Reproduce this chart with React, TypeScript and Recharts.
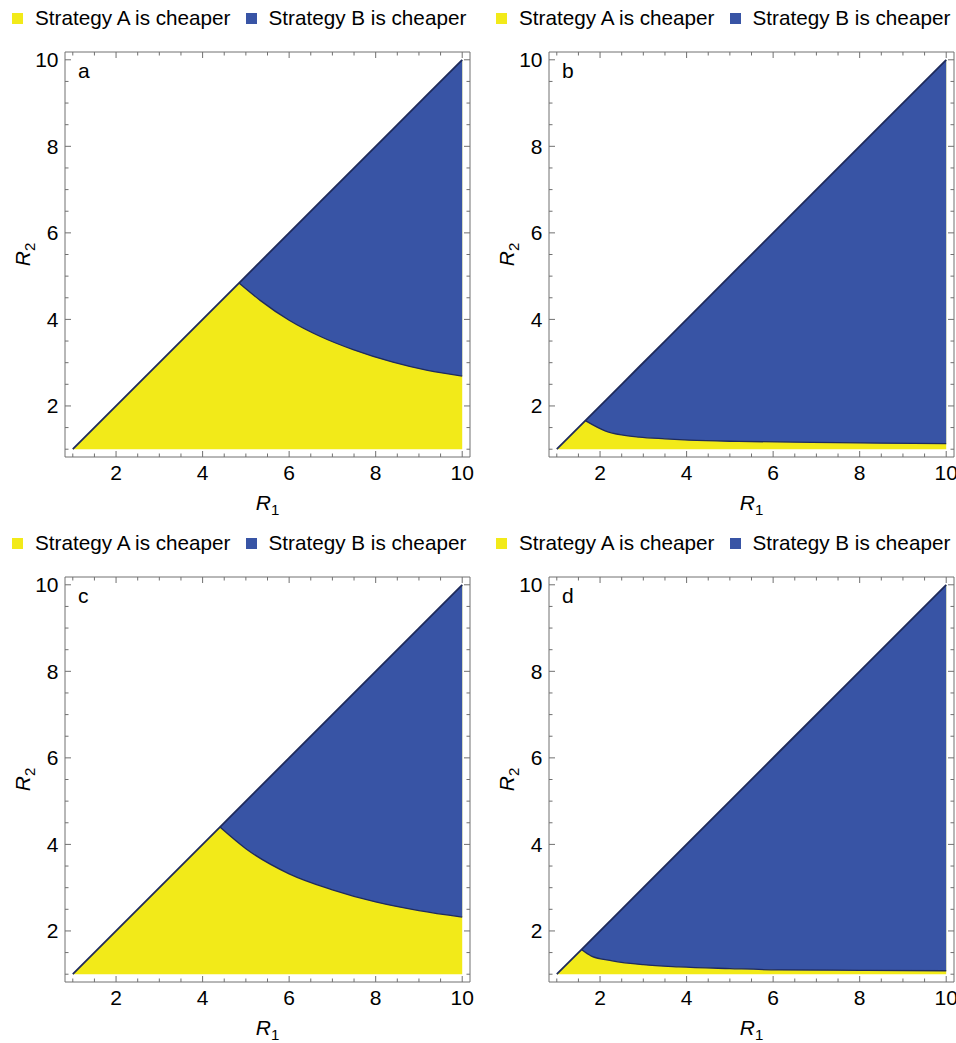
import React from 'react';
import { ComposedChart, Area, Line, XAxis, YAxis, ReferenceArea, Label } from 'recharts';

// boundary curves (R1, R2), first point is where the curve meets the diagonal
const R1_A = [4.84, 5.33, 6.0, 6.71, 7.48, 8.4, 9.2, 10];
const R2_A = [4.84, 4.44, 3.98, 3.61, 3.3, 3.01, 2.82, 2.69];

const R1_B = [1.66, 2.13, 2.5, 2.9, 3.5, 4.06, 5.2, 6.9, 8.5, 10];
const R2_B = [1.66, 1.42, 1.33, 1.28, 1.24, 1.21, 1.18, 1.16, 1.14, 1.13];

const R1_C = [4.4, 5.0, 6.0, 7.0, 8.0, 9.0, 10];
const R2_C = [4.4, 3.9, 3.32, 2.95, 2.67, 2.47, 2.32];

const R1_D = [1.57, 1.8, 2.28, 3.0, 3.82, 5.0, 6.13, 8.0, 10];
const R2_D = [1.57, 1.42, 1.31, 1.22, 1.17, 1.13, 1.1, 1.09, 1.08];

const TICKS = [1, 1.5, 2, 2.5, 3, 3.5, 4, 4.5, 5, 5.5, 6, 6.5, 7, 7.5, 8, 8.5, 9, 9.5, 10];
const LABELED = [2, 4, 6, 8, 10];
const DOMAIN: [number, number] = [0.82, 10.18];

const LEGEND = ['Strategy A is cheaper', 'Strategy B is cheaper'];

const YELLOW = '#f2ea19';
const BLUE = '#3854a5';
const NAVY = '#1f2b5c';
const FRAME = '#707070';
const FONT = '"Liberation Sans", Arial, sans-serif';

const PLOT = 405;

const buildRows = (r1s: number[], r2s: number[]) => [
  { r1: 1, diag: 1, yellow: [1, 1] },
  ...r1s.map((x, i) => ({
    r1: x,
    diag: x,
    yellow: [1, x],
    blue: [r2s[i], x],
    curve: r2s[i],
  })),
];

const BottomTick = (props: any) => {
  const { x, y, payload } = props;
  const v = payload.value;
  const major = LABELED.includes(v);
  const len = major ? 6 : 3.5;
  return (
    <g>
      <line x1={x} y1={y} x2={x} y2={y - len} stroke={FRAME} />
      <line x1={x} y1={y - PLOT} x2={x} y2={y - PLOT + len} stroke={FRAME} />
      {major && (
        <text x={x} y={y + 23} textAnchor="middle" fontSize={21} fontFamily={FONT} fill="#000">
          {v}
        </text>
      )}
    </g>
  );
};

const LeftTick = (props: any) => {
  const { x, y, payload } = props;
  const v = payload.value;
  const major = LABELED.includes(v);
  const len = major ? 6 : 3.5;
  return (
    <g>
      <line x1={x} y1={y} x2={x + len} y2={y} stroke={FRAME} />
      <line x1={x + PLOT} y1={y} x2={x + PLOT - len} y2={y} stroke={FRAME} />
      {major && (
        <text x={x - 6.5} y={y + 7.5} textAnchor="end" fontSize={21} fontFamily={FONT} fill="#000">
          {v}
        </text>
      )}
    </g>
  );
};

const XLabel = (props: any) => {
  const { x, y, width } = props.viewBox;
  return (
    <text x={x + width / 2} y={y + 53} textAnchor="middle" fontSize={21} fontFamily={FONT} fill="#000">
      <tspan fontStyle="italic">R</tspan>
      <tspan dy={5} fontSize={15}>1</tspan>
    </text>
  );
};

const YLabel = (props: any) => {
  const { x, y, height } = props.viewBox;
  const cx = x + 14.5;
  const cy = y + height / 2;
  return (
    <text
      x={cx}
      y={cy}
      transform={`rotate(-90, ${cx}, ${cy})`}
      textAnchor="middle"
      fontSize={21}
      fontFamily={FONT}
      fill="#000"
    >
      <tspan fontStyle="italic">R</tspan>
      <tspan dy={5} fontSize={15}>2</tspan>
    </text>
  );
};

const Panel = ({ tag, r1s, r2s, width }: { tag: string; r1s: number[]; r2s: number[]; width: number }) => {
  const rows = buildRows(r1s, r2s);
  return (
    <div style={{ position: 'relative', width, height: 525, overflow: 'hidden' }}>
      <div
        style={{
          position: 'absolute',
          left: 12,
          top: 6,
          display: 'flex',
          alignItems: 'center',
          whiteSpace: 'nowrap',
          fontFamily: FONT,
          fontSize: 20.7,
          lineHeight: '24px',
        }}
      >
        <span style={{ width: 11, height: 11, background: YELLOW, display: 'inline-block', marginRight: 12 }} />
        <span>{LEGEND[0]}</span>
        <span style={{ width: 11, height: 11, background: BLUE, display: 'inline-block', marginLeft: 15, marginRight: 12 }} />
        <span>{LEGEND[1]}</span>
      </div>
      <ComposedChart
        width={width}
        height={525}
        data={rows}
        margin={{ top: 52, right: width - 470, bottom: 8, left: 15 }}
      >
        <XAxis
          type="number"
          dataKey="r1"
          domain={DOMAIN}
          ticks={TICKS}
          interval={0}
          allowDataOverflow
          axisLine={false}
          tickLine={false}
          tickSize={0}
          tickMargin={0}
          height={60}
          tick={<BottomTick />}
          label={<Label content={<XLabel />} />}
        />
        <YAxis
          type="number"
          domain={DOMAIN}
          ticks={TICKS}
          interval={0}
          allowDataOverflow
          axisLine={false}
          tickLine={false}
          tickSize={0}
          tickMargin={0}
          width={50}
          tick={<LeftTick />}
          label={<Label content={<YLabel />} />}
        />
        <Area
          type="linear"
          dataKey="yellow"
          fill={YELLOW}
          fillOpacity={1}
          stroke="none"
          isAnimationActive={false}
        />
        <Area
          type="monotone"
          dataKey="blue"
          fill={BLUE}
          fillOpacity={1}
          stroke="none"
          isAnimationActive={false}
        />
        <Line type="monotone" dataKey="curve" stroke={NAVY} strokeWidth={1.3} dot={false} isAnimationActive={false} />
        <Line type="linear" dataKey="diag" stroke={NAVY} strokeWidth={1.8} dot={false} isAnimationActive={false} />
        <ReferenceArea
          x1={DOMAIN[0]}
          x2={DOMAIN[1]}
          y1={DOMAIN[0]}
          y2={DOMAIN[1]}
          fill="none"
          fillOpacity={0}
          stroke={FRAME}
          strokeWidth={1}
          ifOverflow="visible"
        >
          <Label
            content={(p: any) => (
              <text x={p.viewBox.x + 13} y={p.viewBox.y + 26} fontSize={21} fontFamily={FONT} fill="#000">
                {tag}
              </text>
            )}
          />
        </ReferenceArea>
      </ComposedChart>
    </div>
  );
};

export default function App() {
  return (
    <div style={{ position: 'absolute', left: 0, top: 0, width: 956, height: 1043, overflow: 'hidden', background: '#fff' }}>
      <div style={{ position: 'absolute', left: 0, top: 0 }}>
        <Panel tag="a" r1s={R1_A} r2s={R2_A} width={484} />
      </div>
      <div style={{ position: 'absolute', left: 484, top: 0 }}>
        <Panel tag="b" r1s={R1_B} r2s={R2_B} width={472} />
      </div>
      <div style={{ position: 'absolute', left: 0, top: 525 }}>
        <Panel tag="c" r1s={R1_C} r2s={R2_C} width={484} />
      </div>
      <div style={{ position: 'absolute', left: 484, top: 525 }}>
        <Panel tag="d" r1s={R1_D} r2s={R2_D} width={472} />
      </div>
    </div>
  );
}
